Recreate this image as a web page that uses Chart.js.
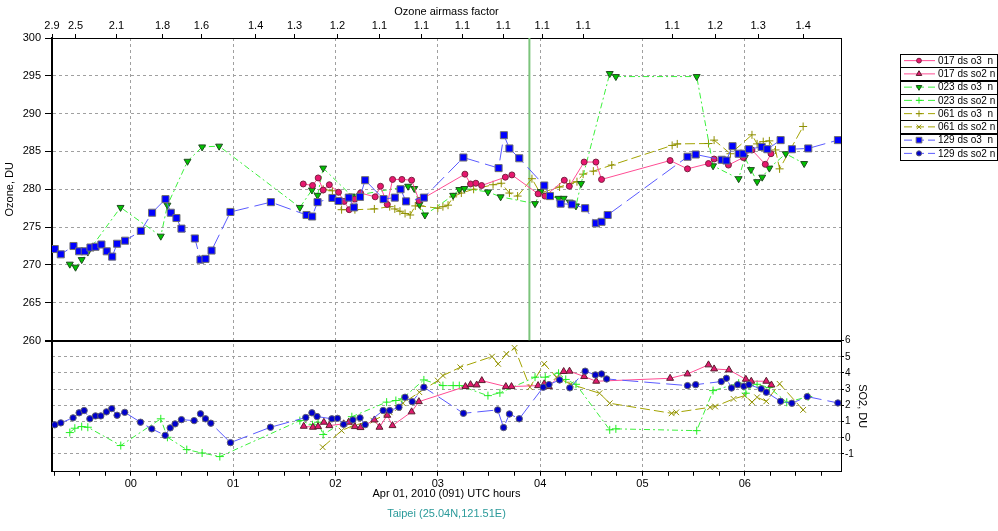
<!DOCTYPE html>
<html>
<head>
<meta charset="utf-8">
<title>Ozone / SO2 Taipei</title>
<script src="https://cdn.jsdelivr.net/npm/chart.js"></script>
<style>
  body { margin: 0; background: #fff; }
  canvas { display: block; }
</style>
</head>
<body>
<canvas id="chart" width="998" height="531"></canvas>
<script>
// time axis (UTC hours) and tick labels
const hourTicks = [0, 1, 2, 3, 4, 5, 6];
const hourLabels = ['00', '01', '02', '03', '04', '05', '06'];
const airmassPos = [-0.77, -0.54, -0.14, 0.31, 0.69, 1.22, 1.60, 2.02, 2.43, 2.84, 3.24, 3.64, 4.02, 4.42, 5.29, 5.71, 6.13, 6.57];
const airmassLabels = ['2.9', '2.5', '2.1', '1.8', '1.6', '1.4', '1.3', '1.2', '1.1', '1.1', '1.1', '1.1', '1.1', '1.1', '1.1', '1.2', '1.3', '1.4'];
const ozoneTicks = [260, 265, 270, 275, 280, 285, 290, 295, 300];
const so2Ticks = [-1, 0, 1, 2, 3, 4, 5, 6];
const markerTime = 3.895;

// 017
const t017o3 = [1.685, 1.776, 1.831, 1.88, 1.94, 2.03, 2.085, 2.134, 2.19, 2.245, 2.388, 2.44, 2.506, 2.558, 2.649, 2.744, 2.818, 3.265, 3.32, 3.372, 3.428, 3.66, 3.724, 3.98, 4.047, 4.236, 4.285, 4.43, 4.545, 4.60, 5.27, 5.44, 5.645, 5.70, 5.84, 5.985, 6.07, 6.20, 6.256];
const v017o3 = [280.7, 280.5, 281.5, 279.9, 280.6, 279.6, 278.4, 277.3, 278.7, 279.5, 279.0, 280.4, 278.0, 281.3, 281.3, 281.2, 278.5, 282.0, 280.7, 280.8, 280.5, 281.6, 281.9, 279.4, 279.1, 281.2, 280.4, 283.6, 283.6, 281.3, 283.8, 282.7, 283.4, 284.0, 283.2, 284.2, 285.2, 283.3, 284.7];
const t017so2 = [1.69, 1.78, 1.83, 1.887, 1.94, 2.08, 2.13, 2.19, 2.245, 2.38, 2.43, 2.506, 2.557, 2.744, 2.815, 3.27, 3.32, 3.38, 3.43, 3.665, 3.72, 3.98, 4.04, 4.086, 4.23, 4.287, 4.43, 4.548, 5.27, 5.44, 5.645, 5.70, 5.845, 6.01, 6.063, 6.21, 6.26];
const v017so2 = [0.71, 0.65, 0.69, 0.96, 0.75, 0.86, 0.96, 0.69, 0.63, 1.1, 0.65, 1.39, 0.75, 1.6, 2.23, 3.16, 3.28, 3.26, 3.53, 3.16, 3.16, 3.22, 3.33, 3.16, 4.09, 4.11, 3.78, 3.49, 3.67, 3.94, 4.5, 4.25, 4.19, 3.61, 3.49, 3.49, 3.26];

// 023
const t023o3 = [-0.596, -0.54, -0.48, -0.42, -0.10, 0.293, 0.358, 0.554, 0.697, 0.863, 1.652, 1.77, 1.825, 1.88, 2.16, 2.71, 2.77, 2.82, 2.874, 3.15, 3.21, 3.26, 3.49, 3.614, 3.95, 4.005, 4.07, 4.18, 4.23, 4.29, 4.35, 4.40, 4.68, 4.74, 5.53, 5.69, 5.94, 6.00, 6.06, 6.12, 6.17, 6.24, 6.40, 6.58];
const v023o3 = [270.1, 269.7, 270.7, 271.7, 277.6, 273.8, 277.9, 283.7, 285.6, 285.7, 277.6, 279.9, 279.2, 282.8, 279.1, 280.4, 280.1, 278.0, 276.6, 279.2, 279.96, 280.1, 279.65, 279.0, 278.1, 279.7, 279.2, 278.8, 278.8, 278.3, 277.8, 280.75, 295.3, 294.9, 294.9, 283.1, 281.4, 284.2, 282.6, 281.0, 281.6, 282.8, 284.7, 283.4];
const t023so2 = [-0.596, -0.547, -0.48, -0.42, -0.098, 0.293, 0.358, 0.547, 0.697, 0.87, 1.652, 1.776, 1.83, 1.88, 2.16, 2.5, 2.59, 2.65, 2.864, 3.05, 3.15, 3.21, 3.49, 3.607, 3.95, 4.05, 4.18, 4.25, 4.35, 4.68, 4.74, 5.53, 5.69, 5.94, 6.01, 6.05, 6.12, 6.24, 6.41, 6.62];
const v023so2 = [0.32, 0.59, 0.69, 0.65, -0.48, 1.17, 0.03, -0.73, -0.94, -1.16, 1.06, 0.80, 0.96, 0.20, 1.3, 2.2, 2.3, 2.4, 3.57, 3.22, 3.22, 3.22, 2.6, 2.77, 3.74, 3.74, 3.98, 3.6, 3.3, 0.49, 0.55, 0.44, 2.91, 3.37, 2.75, 3.22, 3.3, 3.1, 2.19, 2.54];

// 061
const t061o3 = [1.88, 1.97, 2.06, 2.19, 2.38, 2.53, 2.58, 2.63, 2.68, 2.73, 2.78, 2.83, 3.0, 3.05, 3.10, 3.15, 3.23, 3.35, 3.54, 3.62, 3.70, 3.78, 3.92, 4.0, 4.19, 4.29, 4.36, 4.42, 4.52, 4.70, 5.29, 5.34, 5.645, 5.70, 5.86, 6.07, 6.12, 6.18, 6.24, 6.30, 6.34, 6.57];
const v061o3 = [280.0, 279.8, 277.3, 277.3, 277.4, 277.7, 277.4, 277.1, 276.8, 276.6, 277.8, 277.8, 277.5, 277.7, 277.9, 279.0, 279.5, 280.0, 280.6, 280.8, 279.5, 279.1, 281.4, 279.5, 280.3, 280.75, 281.0, 282.0, 282.4, 283.2, 285.8, 286.0, 286.05, 286.5, 284.7, 287.2, 286.0, 286.3, 286.4, 285.2, 282.7, 288.3];
const t061so2 = [1.875, 2.06, 2.17, 2.37, 2.53, 2.61, 2.66, 2.82, 3.0, 3.05, 3.22, 3.53, 3.59, 3.67, 3.75, 3.90, 4.04, 4.16, 4.3, 4.58, 4.68, 5.285, 5.33, 5.66, 5.71, 5.89, 6.0, 6.07, 6.12, 6.21, 6.34, 6.57];
const v061so2 = [-0.58, 0.44, 0.75, 1.06, 1.57, 1.84, 2.13, 2.81, 3.53, 3.84, 4.35, 5.01, 4.56, 5.18, 5.55, 3.12, 4.56, 3.74, 3.3, 2.75, 2.13, 1.51, 1.57, 1.88, 1.93, 2.40, 2.6, 2.2, 2.5, 2.25, 3.33, 1.72];

// 129
const t129o3 = [-0.743, -0.684, -0.56, -0.505, -0.45, -0.394, -0.345, -0.287, -0.235, -0.182, -0.134, -0.056, 0.098, 0.208, 0.339, 0.391, 0.446, 0.495, 0.626, 0.681, 0.730, 0.789, 0.974, 1.369, 1.717, 1.772, 1.825, 1.97, 2.03, 2.13, 2.18, 2.24, 2.29, 2.47, 2.58, 2.636, 2.69, 2.864, 3.25, 3.594, 3.646, 3.70, 3.796, 4.04, 4.096, 4.20, 4.31, 4.44, 4.545, 4.60, 4.66, 5.44, 5.52, 5.774, 5.82, 5.88, 5.94, 5.986, 6.04, 6.165, 6.22, 6.35, 6.46, 6.62, 6.91];
const v129o3 = [272.1, 271.4, 272.5, 271.8, 271.8, 272.3, 272.4, 272.7, 271.8, 271.1, 272.8, 273.2, 274.5, 276.9, 278.7, 276.9, 276.2, 274.8, 273.5, 270.7, 270.8, 271.9, 277.0, 278.3, 276.6, 276.4, 278.3, 278.85, 278.45, 278.9, 277.6, 279.0, 281.2, 278.7, 278.9, 280.0, 278.4, 278.9, 284.2, 282.8, 287.15, 285.4, 284.1, 280.5, 279.1, 278.1, 278.0, 277.5, 275.5, 275.7, 276.6, 284.3, 284.6, 283.9, 283.8, 285.7, 284.7, 284.7, 285.3, 285.6, 285.3, 286.5, 285.3, 285.4, 286.5];
const t129so2 = [-0.743, -0.684, -0.564, -0.505, -0.456, -0.40, -0.345, -0.293, -0.238, -0.186, -0.134, -0.059, 0.095, 0.205, 0.336, 0.385, 0.433, 0.495, 0.619, 0.681, 0.73, 0.782, 0.974, 1.365, 1.71, 1.77, 1.82, 1.965, 2.02, 2.08, 2.17, 2.24, 2.29, 2.466, 2.53, 2.62, 2.68, 2.75, 2.864, 3.25, 3.585, 3.643, 3.70, 3.796, 4.03, 4.086, 4.19, 4.29, 4.44, 4.54, 4.60, 4.65, 5.44, 5.52, 5.77, 5.82, 5.87, 5.93, 5.99, 6.04, 6.16, 6.21, 6.35, 6.46, 6.61, 6.91];
const v129so2 = [0.80, 0.92, 1.23, 1.54, 1.68, 1.17, 1.35, 1.35, 1.60, 1.80, 1.39, 1.57, 0.96, 0.55, 0.15, 0.61, 0.86, 1.12, 1.06, 1.48, 1.17, 0.90, -0.30, 0.65, 1.25, 1.54, 1.31, 1.17, 1.20, 0.83, 1.10, 1.23, 0.81, 1.68, 1.68, 1.88, 2.50, 2.23, 3.12, 1.51, 1.72, 0.63, 1.47, 1.17, 3.12, 3.28, 3.57, 3.08, 4.11, 3.88, 3.94, 3.63, 3.22, 3.28, 3.47, 3.67, 3.07, 3.28, 3.18, 3.28, 3.02, 2.81, 2.25, 2.13, 2.54, 2.15];

function series(label, ts, vs, axis, style) {
  return Object.assign({
    label: label,
    xAxisID: 'x',
    yAxisID: axis,
    data: ts.map(function (t, i) { return {x: t, y: vs[i]}; }),
    borderWidth: 1,
    tension: 0,
    pointBorderWidth: 1,
    pointHoverRadius: 0
  }, style);
}

const pink = {borderColor: '#ff4d94', order: 2};
const green = {borderColor: '#3cf03c', borderDash: [6, 3, 2, 3], order: 3};
const olive = {borderColor: '#a3a300', borderDash: [10, 4], order: 4};
const blue = {borderColor: '#5a5aff', borderDash: [16, 6], order: 1};

const datasets = [
  series('017 ds o3  n', t017o3, v017o3, 'yO3', Object.assign({pointStyle: 'circle', pointRadius: 3, pointBackgroundColor: '#e8176f', pointBorderColor: '#7a2040'}, pink)),
  series('017 ds so2 n', t017so2, v017so2, 'ySO2', Object.assign({pointStyle: 'triangle', pointRadius: 4, pointBackgroundColor: '#e01a6e', pointBorderColor: '#5a2030'}, pink)),
  series('023 ds o3  n', t023o3, v023o3, 'yO3', Object.assign({pointStyle: 'triangle', pointRotation: 180, pointRadius: 4, pointBackgroundColor: '#00c400', pointBorderColor: '#1f4a1f'}, green)),
  series('023 ds so2 n', t023so2, v023so2, 'ySO2', Object.assign({pointStyle: 'cross', pointRadius: 4, pointBackgroundColor: '#22ee22', pointBorderColor: '#22ee22'}, green)),
  series('061 ds o3  n', t061o3, v061o3, 'yO3', Object.assign({pointStyle: 'cross', pointRadius: 4, pointBackgroundColor: '#8f8f00', pointBorderColor: '#8f8f00'}, olive)),
  series('061 ds so2 n', t061so2, v061so2, 'ySO2', Object.assign({pointStyle: 'crossRot', pointRadius: 4, pointBackgroundColor: '#8f8f00', pointBorderColor: '#8f8f00'}, olive)),
  series('129 ds o3  n', t129o3, v129o3, 'yO3', Object.assign({pointStyle: 'rect', pointRadius: 5, pointBackgroundColor: '#0000ff', pointBorderColor: '#707070'}, blue)),
  series('129 ds so2 n', t129so2, v129so2, 'ySO2', Object.assign({pointStyle: 'circle', pointRadius: 3.2, pointBackgroundColor: '#0000cc', pointBorderColor: '#606070'}, blue)),
  {
    // current time marker, top panel only
    xAxisID: 'x', yAxisID: 'yO3',
    data: [{x: markerTime, y: ozoneTicks[0]}, {x: markerTime, y: ozoneTicks[ozoneTicks.length - 1]}],
    borderColor: '#7cc47c', borderWidth: 2, pointRadius: 0, order: 9
  }
];

// legend box on the right, drawn from the datasets
const sideLegend = {
  id: 'sideLegend',
  afterDraw: function (chart) {
    var ctx = chart.ctx;
    var left = 900, top = 54, w = 97, rowH = 13.25;
    ctx.save();
    chart.data.datasets.forEach(function (ds, i) {
      if (!ds.label) return;
      var y = Math.round(top + i * rowH);
      var cy = top + i * rowH + rowH / 2;
      ctx.setLineDash([]);
      ctx.lineWidth = 1;
      ctx.strokeStyle = '#000';
      ctx.strokeRect(left + 0.5, y + 0.5, w, Math.round(rowH));
      ctx.strokeStyle = ds.borderColor;
      ctx.setLineDash(ds.borderDash ? [8, 4] : []);
      ctx.beginPath();
      ctx.moveTo(left + 4, cy);
      ctx.lineTo(left + 35, cy);
      ctx.stroke();
      ctx.setLineDash([]);
      ctx.fillStyle = ds.pointBackgroundColor;
      ctx.strokeStyle = ds.pointBorderColor;
      Chart.helpers.drawPoint(ctx, {pointStyle: ds.pointStyle, radius: ds.pointRadius * 0.8, rotation: ds.pointRotation || 0, borderWidth: 1}, left + 19, cy);
      ctx.fillStyle = '#000';
      ctx.font = '10px Arial, "Liberation Sans", sans-serif';
      ctx.textBaseline = 'middle';
      ctx.textAlign = 'left';
      ctx.fillText(ds.label, left + 38, cy + 0.5);
    });
    ctx.restore();
  }
};

Chart.defaults.font.family = 'Arial, "Liberation Sans", sans-serif';
Chart.defaults.font.size = 11;
Chart.defaults.color = '#000';

const gridGray = '#a0a0a0';

new Chart(document.getElementById('chart'), {
  type: 'line',
  data: {datasets: datasets},
  plugins: [sideLegend],
  options: {
    responsive: false,
    animation: false,
    devicePixelRatio: 1,
    layout: {padding: {left: 0, right: 123, top: 0, bottom: 0}},
    plugins: {
      legend: {display: false},
      tooltip: {enabled: false},
      title: {
        display: true,
        position: 'bottom',
        fullSize: false,
        text: 'Taipei (25.04N,121.51E)',
        color: '#2a9a9a',
        font: {size: 11, weight: 'normal'},
        padding: {top: 0, bottom: 10}
      }
    },
    scales: {
      x: {
        type: 'linear', position: 'bottom', min: -0.77, max: 6.94,
        afterBuildTicks: function (s) {
          var t = [];
          for (var q = -3; q <= 27; q++) t.push({value: q / 4});
          s.ticks = t;
        },
        afterFit: function (s) { s.height = 36; },
        ticks: {
          autoSkip: false, maxRotation: 0, padding: 2,
          callback: function (v) { var k = hourTicks.indexOf(v); return k >= 0 ? hourLabels[k] : ''; }
        },
        grid: {
          color: function (c) { return c.tick && hourTicks.indexOf(c.tick.value) >= 0 ? gridGray : 'transparent'; },
          tickColor: '#000', tickLength: 4
        },
        border: {color: '#000', width: 1, dash: [3, 3]},
        title: {display: true, text: 'Apr 01, 2010 (091) UTC hours', padding: {top: 0, bottom: 7}}
      },
      x2: {
        type: 'linear', position: 'top', min: -0.77, max: 6.94,
        afterBuildTicks: function (s) { s.ticks = airmassPos.map(function (v) { return {value: v}; }); },
        afterFit: function (s) { s.height = 38; },
        ticks: {
          autoSkip: false, maxRotation: 0, padding: 1,
          callback: function (v, i) { return airmassLabels[i]; }
        },
        grid: {drawOnChartArea: false, tickColor: '#000', tickLength: 4},
        border: {color: '#000', width: 1},
        title: {display: true, text: 'Ozone airmass factor', padding: {top: 5, bottom: 0}}
      },
      yLB: {
        type: 'linear', position: 'left', stack: 'L', stackWeight: 131, weight: 1,
        min: 0, max: 1,
        afterFit: function (s) { s.width = 52; },
        ticks: {display: false},
        grid: {display: false},
        border: {color: '#000', width: 2}
      },
      yO3: {
        type: 'linear', position: 'left', stack: 'L', stackWeight: 302, weight: 2,
        min: 260, max: 300,
        afterBuildTicks: function (s) { s.ticks = ozoneTicks.map(function (v) { return {value: v}; }); },
        afterFit: function (s) { s.width = 52; },
        ticks: {padding: 4, autoSkip: false},
        grid: {
          color: function (c) { return c.tick && c.tick.value === 260 ? '#000' : gridGray; },
          lineWidth: function (c) { return c.tick && c.tick.value === 260 ? 2 : 1; },
          tickColor: '#000', tickLength: 7
        },
        border: {
          color: '#000', width: 2,
          dash: function (c) { return c.tick && c.tick.value === 260 ? [] : [3, 3]; }
        },
        title: {display: true, text: 'Ozone, DU', padding: {top: 3, bottom: 0}}
      },
      yRT: {
        type: 'linear', position: 'right', stack: 'R', stackWeight: 302, weight: 1,
        min: 0, max: 1,
        afterFit: function (s) { s.width = 34; },
        ticks: {display: false},
        grid: {display: false},
        border: {color: '#000', width: 1}
      },
      ySO2: {
        type: 'linear', position: 'right', stack: 'R', stackWeight: 131, weight: 2,
        min: -2.1, max: 6,
        afterBuildTicks: function (s) { s.ticks = so2Ticks.map(function (v) { return {value: v}; }); },
        afterFit: function (s) { s.width = 34; },
        ticks: {padding: 1, autoSkip: false, font: {size: 10}},
        grid: {
          color: function (c) { return c.tick && c.tick.value === 6 ? 'transparent' : gridGray; },
          tickColor: '#000', tickLength: 3
        },
        border: {color: '#000', width: 1, dash: [3, 3]},
        title: {display: true, text: 'SO2, DU', padding: {top: 6, bottom: 0}}
      }
    }
  }
});
</script>
</body>
</html>
